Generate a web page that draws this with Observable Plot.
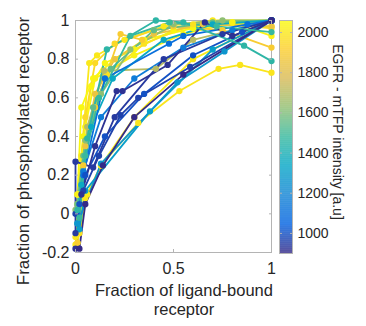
<!DOCTYPE html>
<html>
<head>
<meta charset="utf-8">
<script src="https://cdn.jsdelivr.net/npm/d3@7"></script>
<script src="https://cdn.jsdelivr.net/npm/@observablehq/plot@0.6"></script>
<style>
  html, body { margin: 0; padding: 0; background: #fff; }
  #wrap { position: relative; width: 366px; height: 326px; font-family: "Liberation Sans", Arial, sans-serif; color: #262626; }
  #main, #cbar { position: absolute; top: 0; }
  #main { left: 0; }
  #cbar { left: 270px; }
  .lbl { position: absolute; white-space: nowrap; color: #262626; }
</style>
</head>
<body>
<div id="wrap">
  <div id="main"></div>
  <div id="cbar"></div>
  <div class="lbl" id="ylab" style="font-size:17px; left:24px; top:151px; transform: translate(-50%,-50%) rotate(-90deg);">Fraction of phosphorylated receptor</div>
  <div class="lbl" id="xlab" style="font-size:16.5px; left:184px; top:281px; transform: translateX(-50%); text-align:center; line-height:19px;">Fraction of ligand-bound<br>receptor</div>
  <div class="lbl" id="clab" style="font-size:14px; left:338px; top:132px; transform: translate(-50%,-50%) rotate(90deg);">EGFR - mTFP intensity [a.u]</div>
</div>
<script>
// Intensity (EGFR - mTFP, a.u.) of each cell
const intensities = [2040, 1990, 2000, 2050, 1950, 2030, 1980, 2010, 1900, 1850, 1700, 1620, 1550, 1350, 1300, 1260, 1150, 1100, 1000, 960, 940, 920, 900, 1480, 1450];
// Fraction of ligand-bound receptor, per cell
const boundFraction = [
  [0.01,0.04,0.08,0.15,0.3,0.5,0.8,1],
  [0.0,0.05,0.13,0.32,0.53,0.73,0.84,1],
  [0.0,0.03,0.07,0.11,0.25,0.45,0.7,1],
  [0.01,0.03,0.09,0.2,0.35,0.6,1],
  [0.01,0.05,0.1,0.2,0.4,0.7,1],
  [0.01,0.05,0.1,0.3,0.55,0.8,1],
  [0.02,0.06,0.16,0.35,0.6,1],
  [0.01,0.06,0.13,0.3,0.6,1],
  [0.01,0.04,0.1,0.23,0.34,0.5,0.75,1],
  [0.01,0.05,0.1,0.2,0.4,0.65,1],
  [0.02,0.06,0.146,0.41,0.6,1],
  [0.0,0.05,0.13,0.28,0.5,0.75,1],
  [0.01,0.04,0.09,0.18,0.4,0.7,1],
  [0.01,0.03,0.08,0.19,0.45,0.7,1],
  [0.02,0.05,0.38,0.7,1],
  [0.01,0.13,0.52,0.76,1],
  [0.01,0.04,0.13,0.3,0.55,0.8,1],
  [0.01,0.04,0.15,0.477,0.55,0.877,1],
  [0.02,0.05,0.15,0.35,0.6,0.85,1],
  [0.0,0.04,0.12,0.23,0.32,0.585,1],
  [0.0,0.0,0.09,0.2,0.45,0.75,1],
  [0.0,0.03,0.1,0.21,0.24,0.47,0.66,0.8,1],
  [0.02,0.05,0.14,0.3,0.55,1],
  [0.02,0.05,0.12,0.28,0.48,0.72,1],
  [0.01,0.06,0.16,0.41,0.55,0.86,1]
];
// Fraction of phosphorylated receptor, per cell
const phosphoFraction = [
  [0.05,0.4,0.66,0.78,0.85,0.95,0.99,1],
  [-0.16,0.08,0.25,0.47,0.635,0.75,0.77,0.73],
  [-0.12,0.3,0.78,0.82,0.9,0.97,1,1],
  [0.1,0.55,0.7,0.8,0.9,0.96,1],
  [0.0,0.5,0.78,0.88,0.95,0.99,0.96],
  [0.1,0.45,0.7,0.82,0.93,0.99,0.92],
  [-0.1,0.45,0.72,0.88,0.98,0.97],
  [-0.15,0.1,0.25,0.5,0.8,1],
  [-0.15,0.25,0.55,0.93,0.9,0.97,0.95,0.86],
  [0.0,0.35,0.62,0.8,0.93,0.98,0.97],
  [0.05,0.45,0.74,0.75,0.9,1],
  [0.02,0.38,0.62,0.85,0.98,1,1],
  [0.05,0.3,0.55,0.75,0.95,0.99,1],
  [-0.05,0.15,0.45,0.7,0.9,0.98,1],
  [-0.08,0.12,0.53,0.85,1],
  [-0.05,0.26,0.68,0.84,1],
  [0.0,0.22,0.5,0.7,0.86,0.95,1],
  [0.0,0.2,0.7,0.88,0.92,0.98,1],
  [0.05,0.2,0.4,0.62,0.82,0.94,1],
  [0.0,0.12,0.3,0.51,0.6,0.76,1],
  [-0.1,0.27,0.24,0.5,0.8,0.93,1],
  [-0.18,0.1,0.35,0.635,0.635,0.77,0.99,0.92,1],
  [-0.18,0.05,0.25,0.5,0.72,1],
  [-0.02,0.3,0.6,0.92,0.99,0.97,0.94],
  [0.02,0.39,0.85,1.0,0.99,0.87,0.79]
];
const xTicks = [0, 0.5, 1];
const yTicks = [-0.2, 0, 0.2, 0.4, 0.6, 0.8, 1];
const cTicks = [1000, 1200, 1400, 1600, 1800, 2000];
const cDomain = [900, 2060];
const parulaStops = ["#352a87","#0363e1","#1485d4","#06a7c6","#38b99e","#92bf73","#d9ba56","#fcce2e","#f9fb0e"];

const rows = [];
intensities.forEach((v, i) => {
  boundFraction[i].forEach((bx, j) => rows.push({id: i, v, x: bx, y: phosphoFraction[i][j]}));
});

const parula = d3.piecewise(d3.interpolateRgb, parulaStops);
const colorScale = {type: "linear", domain: cDomain, interpolate: parula};
const fmt = d => String(d);
const axisGray = "#b4b4b4";

const main = Plot.plot({
  width: 280, height: 290,
  marginLeft: 75, marginRight: 9, marginTop: 20, marginBottom: 38,
  style: {fontFamily: "'Liberation Sans', Arial, sans-serif", fontSize: "16px", color: "#262626", background: "transparent"},
  x: {domain: [0, 1], label: null},
  y: {domain: [-0.2, 1], label: null},
  color: colorScale,
  marks: [
    Plot.frame({stroke: axisGray}),
    Plot.line(rows, {x: "x", y: "y", z: "id", stroke: "v", strokeWidth: 1.8}),
    Plot.dot(rows, {x: "x", y: "y", fill: "v", stroke: "v", r: 2.4}),
    Plot.axisX({anchor: "bottom", ticks: xTicks, tickFormat: fmt, tickSize: -3, tickPadding: 13, stroke: axisGray, fill: "#262626", label: null}),
    Plot.axisX({anchor: "top", ticks: xTicks, tickFormat: () => "", tickSize: -3, stroke: axisGray, label: null}),
    Plot.axisY({anchor: "left", ticks: yTicks, tickFormat: fmt, tickSize: -3, tickPadding: 9, stroke: axisGray, fill: "#262626", label: null}),
    Plot.axisY({anchor: "right", ticks: yTicks, tickFormat: () => "", tickSize: -3, stroke: axisGray, label: null})
  ]
});
document.getElementById("main").appendChild(main);

const step = 2;
const ramp = d3.range(cDomain[0], cDomain[1], step);
const cbar = Plot.plot({
  width: 96, height: 270,
  marginLeft: 9, marginRight: 74, marginTop: 20, marginBottom: 17,
  style: {fontFamily: "'Liberation Sans', Arial, sans-serif", fontSize: "14px", color: "#262626", background: "transparent"},
  x: {domain: [0, 1], axis: null},
  y: {domain: cDomain, label: null},
  color: colorScale,
  marks: [
    Plot.rect(ramp, {y1: d => d, y2: d => Math.min(d + step + 0.5, cDomain[1]), fill: d => d, inset: 0}),
    Plot.frame({stroke: axisGray}),
    Plot.axisY({anchor: "right", ticks: cTicks, tickFormat: fmt, tickSize: -3, tickPadding: 8, stroke: axisGray, fill: "#262626", label: null}),
    Plot.axisY({anchor: "left", ticks: cTicks, tickFormat: () => "", tickSize: -3, stroke: axisGray, label: null})
  ]
});
document.getElementById("cbar").appendChild(cbar);
</script>
</body>
</html>
